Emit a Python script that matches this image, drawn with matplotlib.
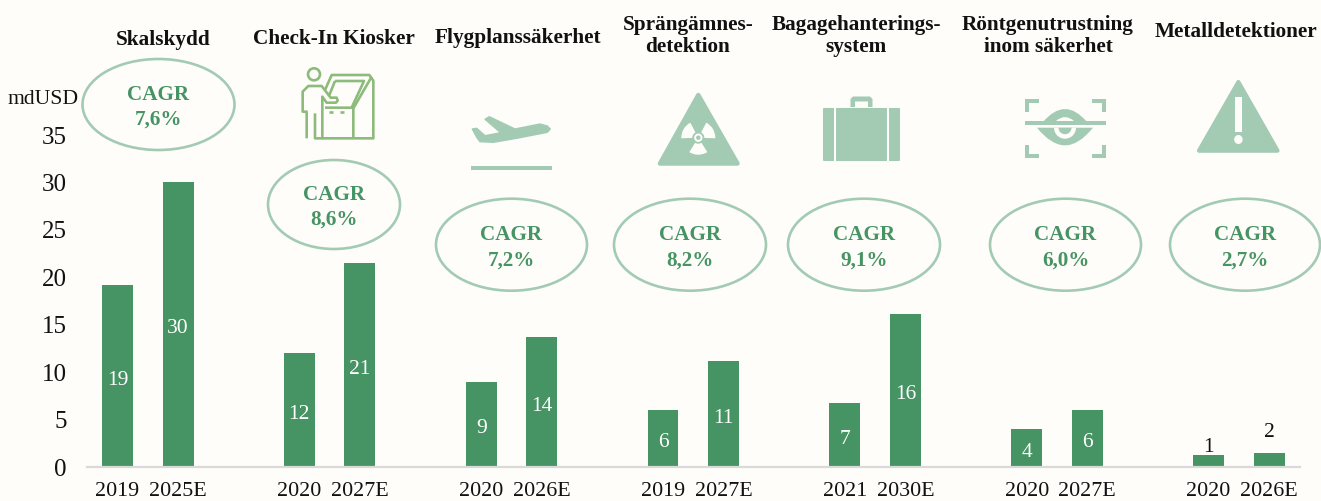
import numpy as np
import matplotlib
matplotlib.use("Agg")
import matplotlib.pyplot as plt
from matplotlib.patches import Ellipse, Polygon, Rectangle, Circle, Wedge, PathPatch
from matplotlib.path import Path

plt.rcParams['font.family'] = ['Liberation Serif', 'DejaVu Serif']

# data
years = ['2019', '2025E', '2020', '2027E', '2020', '2026E', '2019', '2027E',
         '2021', '2030E', '2020', '2027E', '2020', '2026E']
values = [19.2, 30, 12, 21.5, 9, 13.7, 6, 11.2, 6.7, 16.1, 4, 6, 1.3, 1.5]
bar_labels = ['19', '30', '12', '21', '9', '14', '6', '11', '7', '16', '4', '6', '1', '2']
positions = [0, 1, 3, 4, 6, 7, 9, 10, 12, 13, 15, 16, 18, 19]
yticks = [0, 5, 10, 15, 20, 25, 30, 35]

titles = ['Skalskydd', 'Check-In Kiosker', 'Flygplanssäkerhet', 'Sprängämnes-\ndetektion',
          'Bagagehanterings-\nsystem', 'Röntgenutrustning\ninom säkerhet', 'Metalldetektioner']
title_xy = [(163, 40), (334, 39), (518, 38), (688, 36), (856, 36), (1048, 36), (1236, 32)]
cagr = ['7,6%', '8,6%', '7,2%', '8,2%', '9,1%', '6,0%', '2,7%']
ellipses = [(158.5, 104.5, 77, 46.5), (334, 204.5, 67, 45.5), (511.5, 244.7, 76.5, 47), (690, 244.7, 77, 47),
            (864, 244.7, 77, 47), (1065.5, 244.7, 76.5, 47), (1245, 244.7, 76, 47)]

BG = '#FEFDFA'
GREEN = '#469364'
LIGHT = '#A3CBB3'
KIOSK = '#8DBB7C'
W, H = 1321, 501

fig = plt.figure(figsize=(W / 100, H / 100), dpi=100, facecolor=BG)

ax = fig.add_axes([87 / W, (H - 467) / H, (1300 - 87) / W, (467 - 135) / H])
ax.set_facecolor('none')
inside = ax.bar(positions[:12], values[:12], width=0.51, color=GREEN)
small = ax.bar(positions[12:], values[12:], width=0.51, color=GREEN)
ax.set_xlim(-0.503, 19.51)
ax.set_ylim(0, 35)
ax.set_yticks(yticks)
ax.set_xticks(positions)
ax.set_xticklabels(years)
ax.tick_params(axis='y', length=0, pad=14.5, labelsize=18, labelcolor='#111111')
ax.tick_params(axis='x', length=0, pad=10.5, labelsize=15.8, labelcolor='#111111')
for s in ['top', 'left', 'right']:
    ax.spines[s].set_visible(False)
ax.spines['bottom'].set_color('#D9D9D9')
ax.spines['bottom'].set_linewidth(1.6)

for t in ax.bar_label(inside, labels=bar_labels[:12], label_type='center', color='white', fontsize=15.5):
    t.xyann = (0, -3)
small_labels = ax.bar_label(small, labels=bar_labels[12:], label_type='edge', color='#111111', fontsize=15.5)
small_labels[0].xyann = (0, -2)
small_labels[1].xyann = (0, 7.5)

# overlay in pixel coords for the ellipses, headings and icons
ov = fig.add_axes([0, 0, 1, 1])
ov.set_xlim(0, W)
ov.set_ylim(H, 0)
ov.axis('off')
ov.patch.set_alpha(0)

ov.text(43, 99, 'mdUSD', ha='center', va='center', fontsize=15.6, color='#111111')

for t, (x, y) in zip(titles, title_xy):
    ov.text(x, y, t, ha='center', va='center', fontsize=15.3, fontweight='bold',
            color='#111111', linespacing=1.17)

for c, (x, y, rx, ry) in zip(cagr, ellipses):
    ov.add_patch(Ellipse((x, y), 2 * rx - 2, 2 * ry - 2, fill=False, ec=LIGHT, lw=1.9))
    ov.text(x, y - 10, 'CAGR', ha='center', va='center', fontsize=15.2, fontweight='bold', color=GREEN)
    ov.text(x, y + 15.5, c, ha='center', va='center', fontsize=15.2, fontweight='bold', color=GREEN)


# kiosk icon
def kx(p):
    return [(a / 3 + 290, b / 3 + 60) for a, b in p]


kiosk_lines = [
    [(50, 235), (50, 155), (38, 155), (38, 95), (55, 78), (95, 78), (122, 113), (140, 113),
     (143, 122), (138, 128), (110, 128), (97, 110), (97, 235), (75, 235), (75, 160)],
    [(97, 235), (250, 235), (250, 62), (238, 45), (125, 45), (105, 90)],
    [(135, 63), (222, 63), (185, 143), (105, 143)],
    [(135, 63), (118, 105)],
    [(245, 50), (190, 145), (190, 235)],
    [(117, 156), (130, 156)],
    [(150, 156), (163, 156)],
]
for line in kiosk_lines:
    pts = np.array(kx(line))
    ov.plot(pts[:, 0], pts[:, 1], color=KIOSK, lw=1.9, solid_joinstyle='round', solid_capstyle='butt')
ov.add_patch(Circle((314, 74.3), 6, fill=False, ec=KIOSK, lw=1.9))

# plane icon
plane = [(472.3, 129), (476.7, 128.3), (485, 135.7), (500.7, 132.7), (485, 119.3), (489.3, 116.7),
         (515, 129), (540, 124), (547.3, 126), (550.3, 129), (547.3, 132.3), (516.7, 138.3),
         (493.3, 142.3), (480, 141.7), (476.7, 137.3)]
ov.add_patch(Polygon(plane, closed=True, fc=LIGHT, ec=LIGHT, lw=1, joinstyle='round'))
ov.add_patch(Rectangle((471, 166.3), 81, 4, fc=LIGHT, ec='none'))

# radiation icon
ov.add_patch(Polygon([(698.3, 95), (660, 163.5), (737.5, 163.5)], closed=True, fc=LIGHT, ec=LIGHT,
                     lw=3.2, joinstyle='round'))
for ang in [90, 210, 330]:
    ov.add_patch(Wedge((698.3, 137.7), 17, ang - 32, ang + 32, width=11, fc=BG, ec='none'))
ov.add_patch(Circle((698.3, 137.7), 3.2, fc=LIGHT, ec=BG, lw=1.4))

# suitcase icon
ov.add_patch(Rectangle((824, 108.5), 74.5, 51.5, fc=LIGHT, ec=LIGHT, lw=1.5, joinstyle='round'))
ov.add_patch(Rectangle((834, 106), 2, 56, fc=BG, ec='none'))
ov.add_patch(Rectangle((887, 106), 2, 56, fc=BG, ec='none'))
ov.add_patch(Polygon([(850.5, 107), (850.5, 99), (853, 96.5), (870, 96.5), (872.5, 99), (872.5, 107),
                      (868, 107), (868, 101.5), (855, 101.5), (855, 107)], closed=True, fc=LIGHT, ec='none'))

# eye icon
brackets = [
    [(1025, 99), (1039, 99), (1039, 103.3), (1029.3, 103.3), (1029.3, 112.3), (1025, 112.3)],
    [(1106, 99), (1092.3, 99), (1092.3, 103.3), (1101.7, 103.3), (1101.7, 112.3), (1106, 112.3)],
    [(1025, 158.3), (1039, 158.3), (1039, 154), (1029.3, 154), (1029.3, 145), (1025, 145)],
    [(1106, 158.3), (1092.3, 158.3), (1092.3, 154), (1101.7, 154), (1101.7, 145), (1106, 145)],
]
for b in brackets:
    ov.add_patch(Polygon(b, closed=True, fc=LIGHT, ec='none'))
ov.add_patch(Rectangle((1025, 121), 81, 4, fc=LIGHT, ec='none'))
ex, ey = 1065, 127.7
ov.add_patch(PathPatch(Path([(1043, 122), (1065, 96), (1087, 122), (1043, 122)],
                            [Path.MOVETO, Path.CURVE3, Path.CURVE3, Path.CLOSEPOLY]), fc=LIGHT, ec='none'))
ov.add_patch(PathPatch(Path([(1056, 121), (1065, 113), (1074, 121), (1056, 121)],
                            [Path.MOVETO, Path.CURVE3, Path.CURVE3, Path.CLOSEPOLY]), fc=BG, ec='none'))
ov.add_patch(PathPatch(Path([(1037, 127.7), (1065, 163), (1093, 127.7), (1037, 127.7)],
                            [Path.MOVETO, Path.CURVE3, Path.CURVE3, Path.CLOSEPOLY]), fc=LIGHT, ec='none'))
ov.add_patch(Wedge((ex, ey), 11, 0, 180, fc=BG, ec='none'))
ov.add_patch(Wedge((ex, ey), 6.5, 0, 180, fc=LIGHT, ec='none'))

# warning icon
ov.add_patch(Polygon([(1238.4, 82), (1199, 150.7), (1277.5, 150.7)], closed=True, fc=LIGHT, ec=LIGHT,
                     lw=3, joinstyle='round'))
ov.add_patch(Rectangle((1235.3, 96.7), 6.2, 35, fc=BG, ec='none'))
ov.add_patch(Ellipse((1238.4, 139.5), 8.5, 9, fc=BG, ec='none'))

fig.savefig('out.png', dpi=100, facecolor=BG)
